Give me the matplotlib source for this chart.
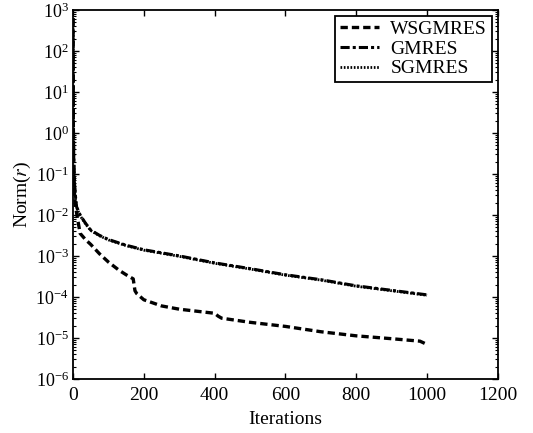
import numpy as np
import matplotlib.pyplot as plt

plt.rcParams['font.family'] = ['Liberation Serif', 'DejaVu Serif']
plt.rcParams['mathtext.fontset'] = 'stix'

# log10 of residual norm
it_gm = [0, 1, 2, 4, 7, 10, 20, 35, 50, 75, 100, 150, 200, 300, 400, 500, 600, 700, 800, 900, 1000]
gm = [2.8, 0.5, -0.6, -1.2, -1.55, -1.8, -2.0, -2.2, -2.37, -2.5, -2.6, -2.74, -2.85, -3.0, -3.17, -3.31, -3.46, -3.58, -3.73, -3.84, -3.95]

it_sg = [0, 1, 2, 4, 7, 10, 20, 35, 50, 75, 100, 150, 200, 300, 400, 500, 600, 700, 800, 900, 1000]
sg = [2.8, 0.3, -0.7, -1.25, -1.6, -1.82, -2.02, -2.21, -2.38, -2.51, -2.61, -2.75, -2.86, -3.01, -3.18, -3.32, -3.47, -3.59, -3.74, -3.85, -3.96]

it_ws = [0, 1, 2, 4, 7, 10, 20, 35, 50, 75, 100, 130, 150, 170, 175, 180, 200, 250, 300, 350, 400, 410, 420, 500, 600, 700, 800, 900, 980, 1000]
ws = [2.8, 0.0, -0.9, -1.5, -1.8, -1.95, -2.45, -2.6, -2.72, -2.95, -3.15, -3.35, -3.46, -3.56, -3.85, -3.92, -4.07, -4.22, -4.3, -4.35, -4.4, -4.47, -4.52, -4.62, -4.72, -4.85, -4.95, -5.02, -5.08, -5.16]

fig = plt.figure(figsize=(5.33, 4.33), dpi=100)
ax = fig.add_axes([0.137, 0.125, 0.797, 0.852])

ax.semilogy(it_ws, 10.0 ** np.array(ws), color='black', lw=2.4, ls=(0, (2.2, 1.2)), label='WSGMRES')
ax.semilogy(it_gm, 10.0 ** np.array(gm), color='black', lw=2.2, ls=(0, (3, 1, 1, 1)), label='GMRES')
ax.semilogy(it_sg, 10.0 ** np.array(sg), color='black', lw=2.0, ls=(0, (0.6, 0.6)), label='SGMRES')

ax.set_xlim(0, 1200)
ax.set_ylim(1e-6, 1e3)
ax.set_xticks([0, 200, 400, 600, 800, 1000, 1200])
ax.set_yticks([10.0 ** k for k in range(-6, 4)])
ax.tick_params(which='both', direction='in', top=True, right=True)
ax.tick_params(axis='x', labelsize=14, pad=6)
ax.tick_params(axis='y', labelsize=13, pad=3)
ax.tick_params(which='major', length=4, width=1)
ax.tick_params(which='minor', length=2.5, width=0.8)
for s in ax.spines.values():
    s.set_linewidth(1.3)

ax.set_xlabel('Iterations', fontsize=14, labelpad=5)
ax.set_ylabel(r'Norm($r$)', fontsize=14, labelpad=2)

leg = ax.legend(loc='upper right', fontsize=14, frameon=True, fancybox=False,
                edgecolor='black', framealpha=1, handlelength=2.0, handletextpad=0.6,
                borderpad=0.25, labelspacing=0.1, borderaxespad=0.3)
leg.get_frame().set_linewidth(1.3)

fig.savefig('out.png', dpi=100)
